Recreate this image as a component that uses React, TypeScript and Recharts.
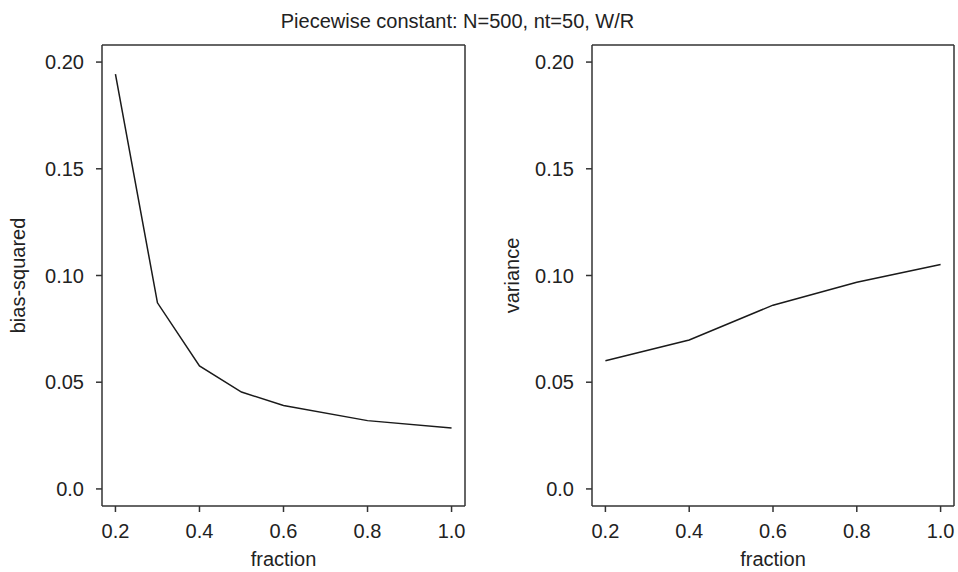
import React from 'react';
import { LineChart, Line, XAxis, YAxis } from 'recharts';

const titleText = 'Piecewise constant: N=500, nt=50, W/R';
const xAxisTitle = 'fraction';
const leftYTitle = 'bias-squared';
const rightYTitle = 'variance';

const leftFractions = [0.2, 0.3, 0.4, 0.5, 0.6, 0.8, 1.0];
const biasSquared = [0.1943, 0.0872, 0.0576, 0.0454, 0.0391, 0.032, 0.0286];

const rightFractions = [0.2, 0.4, 0.6, 0.8, 1.0];
const varianceValues = [0.0601, 0.0698, 0.0861, 0.0968, 0.1052];

const xTicks = [0.2, 0.4, 0.6, 0.8, 1.0];
const xTickLabels = ['0.2', '0.4', '0.6', '0.8', '1.0'];
const yTicks = [0, 0.05, 0.1, 0.15, 0.2];
const yTickLabels = ['0.0', '0.05', '0.10', '0.15', '0.20'];

const xDomain: [number, number] = [0.168, 1.032];
const yDomain: [number, number] = [-0.008, 0.208];

const FONT = '"Liberation Sans", Arial, Helvetica, sans-serif';
const TEXT = '#222';
const BOX = '#333';

const leftData = leftFractions.map((f, i) => ({ f, v: biasSquared[i] }));
const rightData = rightFractions.map((f, i) => ({ f, v: varianceValues[i] }));

const fmtX = (v: number) => {
  const i = xTicks.findIndex((t) => Math.abs(t - v) < 1e-9);
  return i >= 0 ? xTickLabels[i] : String(v);
};
const fmtY = (v: number) => {
  const i = yTicks.findIndex((t) => Math.abs(t - v) < 1e-9);
  return i >= 0 ? yTickLabels[i] : String(v);
};

const tickStyle = { fill: TEXT, fontSize: 20, fontFamily: FONT };

function Panel({ data, width, margin }: { data: { f: number; v: number }[]; width: number; margin: any }) {
  return (
    <LineChart width={width} height={572} data={data} margin={margin}>
      <XAxis
        xAxisId="b"
        dataKey="f"
        type="number"
        domain={xDomain}
        allowDataOverflow
        ticks={xTicks}
        tickFormatter={fmtX}
        height={40}
        tickSize={6}
        tickMargin={12}
        stroke={BOX}
        strokeWidth={1.5}
        tick={tickStyle}
        interval={0}
      />
      <XAxis
        xAxisId="t"
        orientation="top"
        dataKey="f"
        type="number"
        domain={xDomain}
        allowDataOverflow
        height={1}
        tick={false}
        tickLine={false}
        stroke={BOX}
        strokeWidth={1.5}
      />
      <YAxis
        yAxisId="l"
        type="number"
        domain={yDomain}
        allowDataOverflow
        ticks={yTicks}
        tickFormatter={fmtY}
        width={60}
        tickSize={6}
        tickMargin={12}
        stroke={BOX}
        strokeWidth={1.5}
        tick={tickStyle}
        interval={0}
      />
      <YAxis
        yAxisId="r"
        orientation="right"
        type="number"
        domain={yDomain}
        allowDataOverflow
        width={1}
        tick={false}
        tickLine={false}
        stroke={BOX}
        strokeWidth={1.5}
      />
      <Line
        xAxisId="b"
        yAxisId="l"
        dataKey="v"
        stroke="#1a1a1a"
        strokeWidth={1.5}
        dot={false}
        isAnimationActive={false}
      />
      <Line
        xAxisId="t"
        yAxisId="r"
        dataKey="v"
        stroke="none"
        dot={false}
        legendType="none"
        isAnimationActive={false}
      />
    </LineChart>
  );
}

export default function App() {
  return (
    <div style={{ position: 'absolute', left: 0, top: 0, width: 958, height: 572, background: '#fff' }}>
      <div style={{ position: 'absolute', left: 0, top: 0 }}>
        <Panel data={leftData} width={480} margin={{ top: 44, right: 14, bottom: 26, left: 42 }} />
      </div>
      <div style={{ position: 'absolute', left: 480, top: 0 }}>
        <Panel data={rightData} width={478} margin={{ top: 44, right: 3, bottom: 26, left: 52 }} />
      </div>
      <svg
        width={958}
        height={572}
        style={{ position: 'absolute', left: 0, top: 0, pointerEvents: 'none' }}
        fontFamily={FONT}
        fill={TEXT}
        fontSize={20}
      >
        <text x={457.5} y={28} textAnchor="middle">{titleText}</text>
        <text x={283.5} y={566} textAnchor="middle">{xAxisTitle}</text>
        <text x={773} y={566} textAnchor="middle">{xAxisTitle}</text>
        <text x={25} y={275.5} textAnchor="middle" transform="rotate(-90 25 275.5)">{leftYTitle}</text>
        <text x={519} y={275.5} textAnchor="middle" transform="rotate(-90 519 275.5)">{rightYTitle}</text>
      </svg>
    </div>
  );
}
